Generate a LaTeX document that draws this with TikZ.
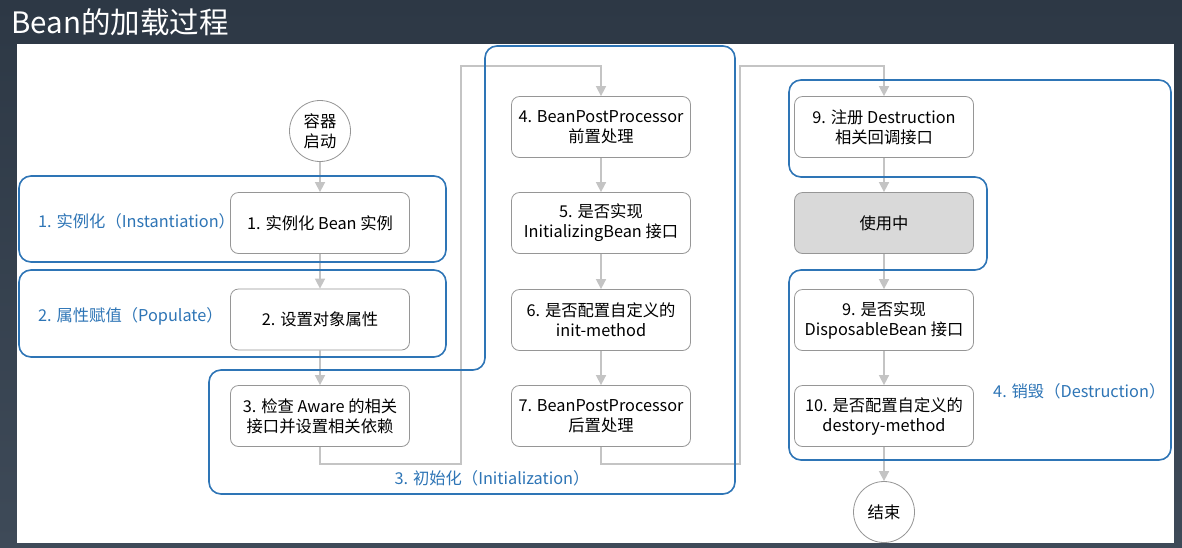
\documentclass[tikz,border=0pt]{standalone}
\usepackage{fontspec}
\setmainfont{Noto Sans CJK SC}
\usetikzlibrary{arrows.meta}
\definecolor{bgtop}{RGB}{45,56,69}
\definecolor{bgbot}{RGB}{62,74,88}
\definecolor{grpblue}{RGB}{46,117,182}
\definecolor{boxedge}{RGB}{150,150,150}
\definecolor{conncol}{RGB}{196,196,196}
\definecolor{usefill}{RGB}{217,217,217}
\begin{document}
\begin{tikzpicture}[x=1pt,y=-1pt,
  stepbox/.style={draw=boxedge, line width=0.8pt, rounded corners=8pt, minimum width=179pt, minimum height=61pt, align=center, font=\fontsize{16.3}{20}\selectfont, fill=white, inner sep=0pt},
  usebox/.style={stepbox, fill=usefill},
  endpoint/.style={draw=boxedge, line width=0.8pt, circle, minimum size=61pt, align=center, font=\fontsize{16.3}{20}\selectfont, fill=white, inner sep=0pt},
  conn/.style={draw=conncol, line width=1.6pt, -{Triangle[width=10pt,length=10pt]}},
  grp/.style={draw=grpblue, line width=1.6pt, rounded corners=12pt},
  grplabel/.style={text=grpblue, font=\fontsize{16.3}{20}\selectfont, inner sep=0pt}
]
\useasboundingbox (0,0) rectangle (1182,547);
\fill[top color=bgtop, bottom color=bgbot] (0,0) rectangle (1182,547);
\fill[white] (17,44) rectangle (1174,543);

\node[anchor=west, text=white, font=\fontsize{29.5}{34}\selectfont, inner sep=0pt] (title) at (11,22) {Bean的加载过程};

% nodes
\node[endpoint] (start) at (320,131) {容器\\启动};
\node[stepbox] (b1) at (320,223) {1. 实例化 Bean 实例};
\node[stepbox] (b2) at (320,319.5) {2. 设置对象属性};
\node[stepbox] (b3) at (320,416) {3. 检查 Aware 的相关\\接口并设置相关依赖};
\node[stepbox] (b4) at (601,127) {4. BeanPostProcessor\\前置处理};
\node[stepbox] (b5) at (601,223) {5. 是否实现\\InitializingBean 接口};
\node[stepbox] (b6) at (601,320) {6. 是否配置自定义的\\init-method};
\node[stepbox] (b7) at (601,416) {7. BeanPostProcessor\\后置处理};
\node[stepbox] (b9) at (884,127) {9. 注册 Destruction\\相关回调接口};
\node[usebox] (use) at (884,223) {使用中};
\node[stepbox] (b9b) at (884,320) {9. 是否实现\\DisposableBean 接口};
\node[stepbox] (b10) at (884,416) {10. 是否配置自定义的\\destory-method};
\node[endpoint] (end) at (884,512) {结束};

% connectors
\coordinate (c1) at (461,464);
\coordinate (c2) at (461,66);
\coordinate (c3) at (740,464);
\coordinate (c4) at (740,66);
\draw[conn] (start) -- (b1);
\draw[conn] (b1) -- (b2);
\draw[conn] (b2) -- (b3);
\draw[conn] (b3.south) |- (c1) -- (c2) -| (b4.north);
\draw[conn] (b4) -- (b5);
\draw[conn] (b5) -- (b6);
\draw[conn] (b6) -- (b7);
\draw[conn] (b7.south) |- (c3) -- (c4) -| (b9.north);
\draw[conn] (b9) -- (use);
\draw[conn] (use) -- (b9b);
\draw[conn] (b9b) -- (b10);
\draw[conn] (b10) -- (end);

% groups
\draw[grp] (19,176) rectangle (446,262);
\draw[grp] (19,270) rectangle (446,357);
\draw[grp] (600,46) -- (735,46) -- (735,494) -- (209,494) -- (209,370) -- (485,370) -- (485,46) -- cycle;
\draw[grp] (1000,80) -- (1171,80) -- (1171,460) -- (789,460) -- (789,270) -- (987,270) -- (987,177) -- (789,177) -- (789,80) -- cycle;

% group labels
\node[grplabel, anchor=west] (l1) at (38,221) {1. 实例化（Instantiation）};
\node[grplabel, anchor=west] (l2) at (38,316) {2. 属性赋值（Populate）};
\node[grplabel] (l3) at (492,478) {3. 初始化（Initialization）};
\node[grplabel, anchor=west] (l4) at (993,391) {4. 销毁（Destruction）};
\end{tikzpicture}
\end{document}
